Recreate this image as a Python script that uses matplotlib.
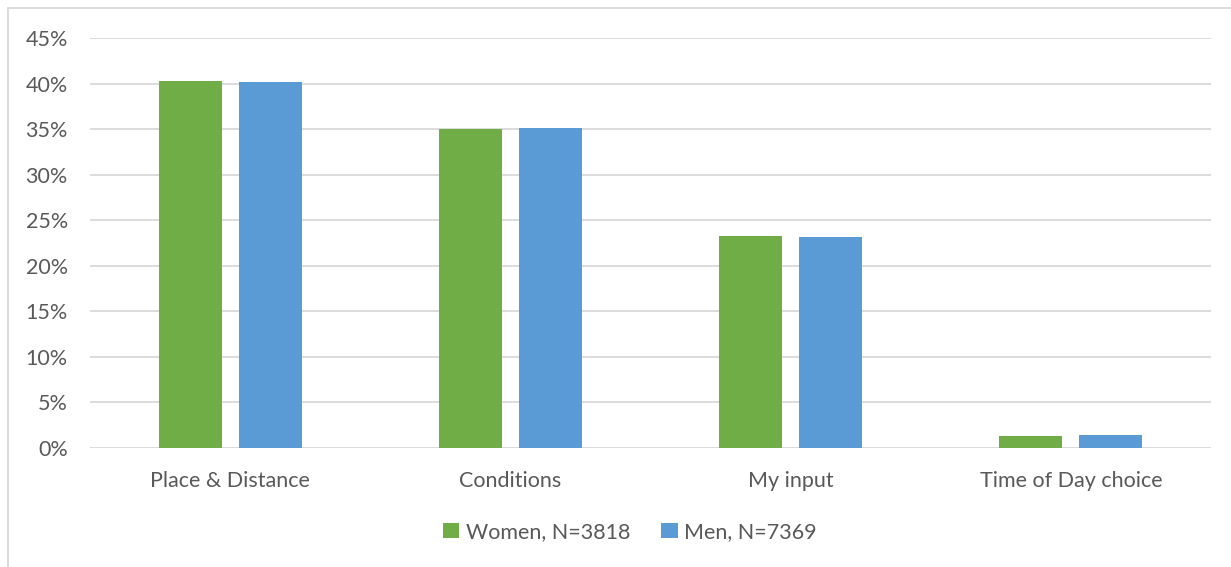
import matplotlib
matplotlib.use("Agg")
import matplotlib.pyplot as plt
import numpy as np
from matplotlib.patches import Rectangle

categories = ["Place & Distance", "Conditions", "My input", "Time of Day choice"]
women = [0.403, 0.350, 0.233, 0.013]
men = [0.402, 0.351, 0.232, 0.014]
series_labels = ["Women, N=3818", "Men, N=7369"]
yticks = [0, 0.05, 0.10, 0.15, 0.20, 0.25, 0.30, 0.35, 0.40, 0.45]

plt.rcParams['font.family'] = ['Lato', 'DejaVu Sans']
text_color = '#595959'
fs = 15.5

W, H = 1231, 567
fig = plt.figure(figsize=(W/100, H/100), dpi=100)
ax = fig.add_axes([90/W, 1-448/H, (1211-90)/W, (448-38)/H])

x = np.arange(len(categories))
bw = 0.225
off = 0.143
ax.bar(x - off, women, bw, color='#70AD47', label=series_labels[0], zorder=3)
ax.bar(x + off, men, bw, color='#5B9BD5', label=series_labels[1], zorder=3)

ax.set_xlim(-0.5, len(categories) - 0.5)
ax.set_ylim(0, 0.45)
ax.set_yticks(yticks)
ax.set_yticklabels([f"{int(round(v*100))}%" for v in yticks], fontsize=fs, color=text_color)
ax.set_xticks(x)
ax.set_xticklabels(categories, fontsize=fs, color=text_color)
ax.tick_params(axis='both', length=0)
ax.tick_params(axis='y', pad=16)
ax.tick_params(axis='x', pad=16.5)
ax.grid(axis='y', color='#D9D9D9', linewidth=1.3, zorder=0)
for s in ax.spines.values():
    s.set_visible(False)

leg = fig.legend(loc='center', bbox_to_anchor=(630/W, 1-532/H), ncol=2, frameon=False,
                 fontsize=fs, handlelength=0.75, handleheight=0.75, handletextpad=0.3,
                 columnspacing=1.45)
for t in leg.get_texts():
    t.set_color(text_color)

fig.patches.append(Rectangle((8/W, -0.05), 1.2, 1-8/H+0.05, transform=fig.transFigure,
                             fill=False, edgecolor='#D9D9D9', linewidth=1.3))

fig.savefig("out.png", dpi=100)
